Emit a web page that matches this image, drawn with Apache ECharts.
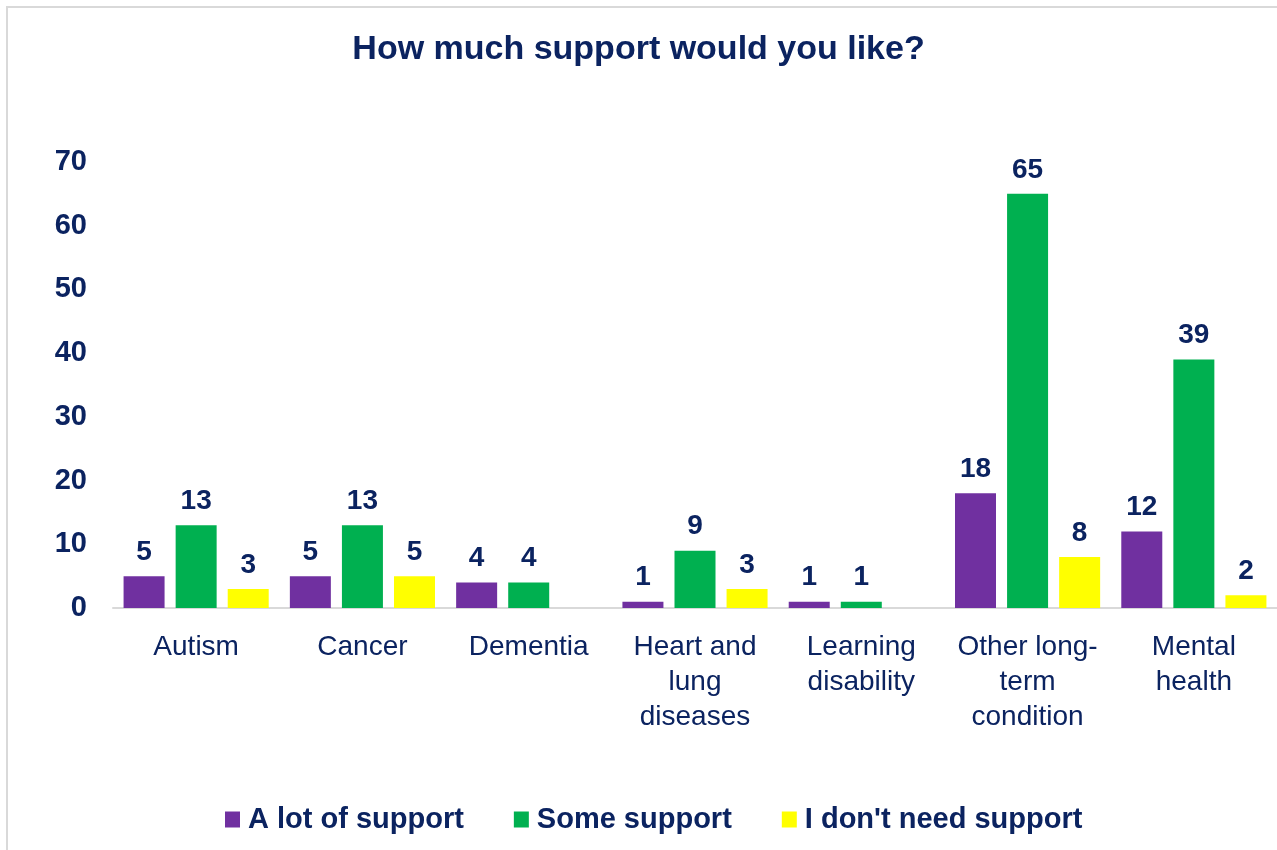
<!DOCTYPE html>
<html>
<head>
<meta charset="utf-8">
<script src="https://cdn.jsdelivr.net/npm/echarts@6/dist/echarts.min.js"></script>
<style>
html,body{margin:0;padding:0;background:#fff;}
#chart{width:1277px;height:850px;}
</style>
</head>
<body>
<div id="chart"></div>
<script>
const titleText = 'How much support would you like?';
const categories = ['Autism', 'Cancer', 'Dementia', 'Heart and\nlung\ndiseases', 'Learning\ndisability', 'Other long-\nterm\ncondition', 'Mental\nhealth'];
const seriesNames = ['A lot of support', 'Some support', "I don't need support"];
const aLotOfSupport = [5, 5, 4, 1, 1, 18, 12];
const someSupport = [13, 13, 4, 9, 1, 65, 39];
const noSupportNeeded = [3, 5, null, 3, null, 8, 2];
const yTicks = [0, 10, 20, 30, 40, 50, 60, 70];

const navy = '#0B2360';
const font = "'Liberation Sans', Arial, sans-serif";
const colors = ['#7030A0', '#00B050', '#FFFF00'];

const chart = echarts.init(document.getElementById('chart'), null, {renderer: 'canvas'});

function barSeries(name, data, color) {
  return {
    name: name,
    type: 'bar',
    data: data,
    barWidth: 41,
    barGap: '27%',
    itemStyle: {color: color},
    label: {
      show: true,
      position: 'top',
      distance: 10,
      color: navy,
      fontFamily: font,
      fontWeight: 'bold',
      fontSize: 28
    }
  };
}

chart.setOption({
  backgroundColor: '#ffffff',
  animation: false,
  color: colors,
  graphic: [{
    type: 'rect',
    shape: {x: 7, y: 7, width: 1300, height: 900},
    style: {fill: 'none', stroke: '#D9D9D9', lineWidth: 2},
    silent: true,
    z: -1
  }],
  title: {
    text: titleText,
    left: 'center',
    top: 28,
    textStyle: {color: navy, fontFamily: font, fontWeight: 'bold', fontSize: 34}
  },
  legend: {
    data: seriesNames,
    bottom: 11,
    left: 220,
    itemWidth: 15,
    itemHeight: 16,
    itemGap: 50,
    icon: 'rect',
    textStyle: {color: navy, fontFamily: font, fontWeight: 'bold', fontSize: 29, padding: [0, 0, 0, 3]}
  },
  grid: {left: 113, top: 162, width: 1166, height: 446, containLabel: false},
  xAxis: {
    type: 'category',
    data: categories,
    axisLine: {show: true, lineStyle: {color: '#D9D9D9', width: 2}},
    axisTick: {show: false},
    axisLabel: {
      color: navy,
      fontFamily: font,
      fontSize: 28,
      lineHeight: 35,
      margin: 22,
      interval: 0
    }
  },
  yAxis: {
    type: 'value',
    min: 0,
    max: 70,
    interval: 10,
    axisLine: {show: false},
    axisTick: {show: false},
    splitLine: {show: false},
    axisLabel: {
      color: navy,
      fontFamily: font,
      fontWeight: 'bold',
      fontSize: 29,
      margin: 26,
      formatter: function (v) { return yTicks.indexOf(v) >= 0 ? String(v) : ''; }
    }
  },
  series: [
    barSeries(seriesNames[0], aLotOfSupport, colors[0]),
    barSeries(seriesNames[1], someSupport, colors[1]),
    barSeries(seriesNames[2], noSupportNeeded, colors[2])
  ]
});
</script>
</body>
</html>
